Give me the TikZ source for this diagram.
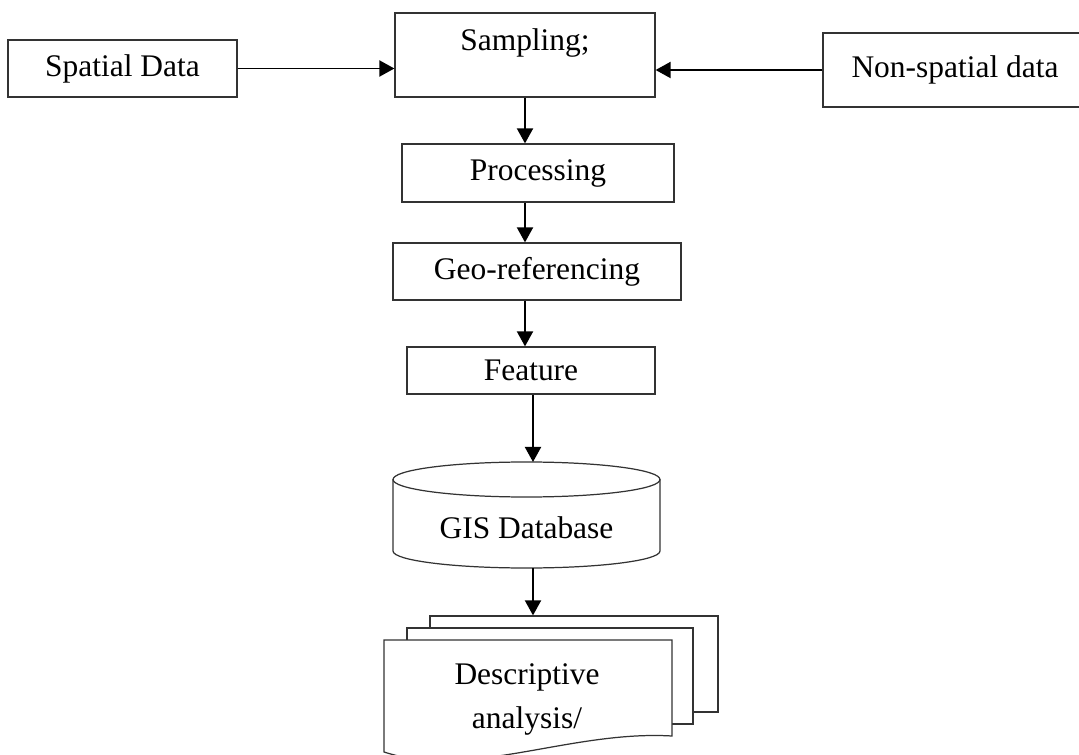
\documentclass[tikz,border=0pt]{standalone}
\usepackage{fontspec}
\setmainfont{Liberation Serif}
\usetikzlibrary{arrows.meta}

\begin{document}
\begin{tikzpicture}[
		every node/.style={font=\fontsize{17.9pt}{25.5pt}\selectfont},
		box/.style={draw=black!80, line width=0.7pt},
		page/.style={draw=black!80, line width=0.7pt, fill=white},
		arr/.style={line width=1.1pt, -{Triangle[length=0.3cm, width=0.32cm]}}
	]
  \useasboundingbox (0cm, 0cm) rectangle (21.58cm, -15.10cm);
  \node (spatial_data) [box, minimum width=4.58cm, minimum height=1.14cm] at (2.45cm, -1.37cm) {Spatial Data};
  \node (sampling) [box, minimum width=5.20cm, minimum height=1.68cm] at (10.50cm, -1.10cm) {};
  \node (sampling_label) at (10.50cm, -0.85cm) {Sampling;};
  \node (non_spatial) [box, minimum width=5.28cm, minimum height=1.48cm] at (19.10cm, -1.40cm) {Non-spatial data};
  \node (processing) [box, minimum width=5.44cm, minimum height=1.16cm] at (10.76cm, -3.46cm) {Processing};
  \node (geo_ref) [box, minimum width=5.76cm, minimum height=1.14cm] at (10.74cm, -5.43cm) {Geo-referencing};
  \node (feature) [box, minimum width=4.96cm, minimum height=0.94cm] at (10.62cm, -7.41cm) {Feature};
  % database drum
  \draw [box] (7.86cm, -9.59cm) -- (7.86cm, -11.02cm) arc [start angle=180, end angle=360, x radius=2.67cm, y radius=0.34cm] -- (13.20cm, -9.59cm);
  \draw [box] (10.53cm, -9.59cm) ellipse [x radius=2.67cm, y radius=0.35cm];
  \node (gis_db) at (10.53cm, -10.56cm) {GIS Database};
  \coordinate (gis_top) at (10.66cm, -9.24cm);
  \coordinate (gis_bottom) at (10.66cm, -11.36cm);
  % stacked pages
  \node (page_back) [page, minimum width=5.76cm, minimum height=1.92cm] at (11.48cm, -13.28cm) {};
  \node (page_mid) [page, minimum width=5.72cm, minimum height=1.92cm] at (11.00cm, -13.52cm) {};
  \draw [page] (7.68cm, -12.80cm) -- (13.44cm, -12.80cm) -- (13.44cm, -14.72cm) .. controls (11.4cm, -14.6cm) and (9.4cm, -15.6cm) .. (7.68cm, -15.04cm) -- cycle;
  \node (descriptive) [align=center] at (10.54cm, -13.99cm) {Descriptive\\analysis/};
  \draw [arr] (spatial_data.east) -- (sampling.west |- spatial_data.east);
  \draw [arr] (non_spatial.west) -- (sampling.east |- non_spatial.west);
  \draw [arr] (sampling.south) -- (processing.north -| sampling.south);
  \draw [arr] (processing.south -| sampling.south) -- (geo_ref.north -| sampling.south);
  \draw [arr] (geo_ref.south -| sampling.south) -- (feature.north -| sampling.south);
  \draw [arr] (feature.south -| gis_top) -- (gis_top);
  \draw [arr] (gis_bottom) -- (page_back.north -| gis_bottom);
\end{tikzpicture}
\end{document}
